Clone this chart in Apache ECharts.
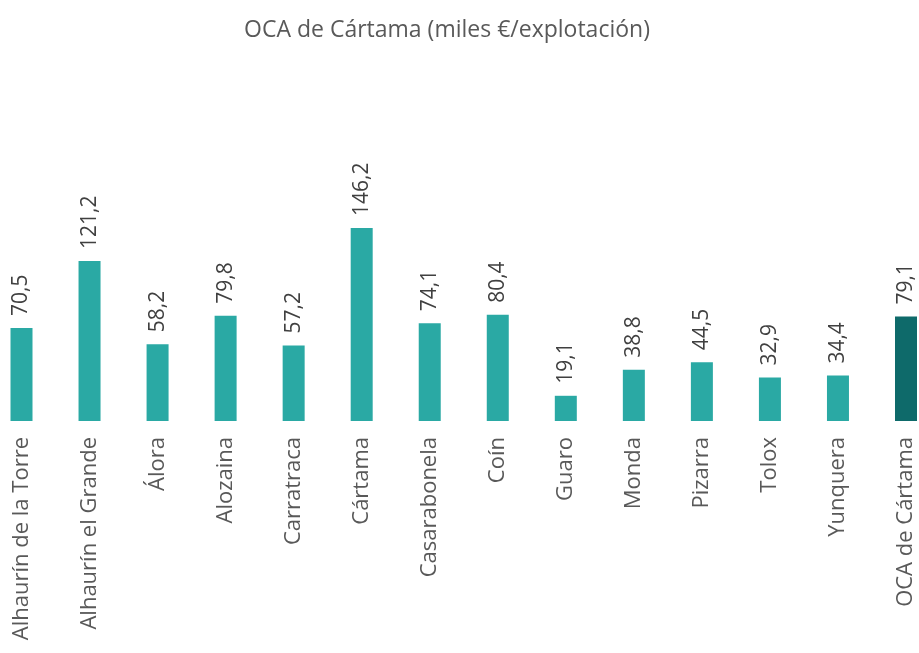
<!DOCTYPE html>
<html>
<head>
<meta charset="utf-8">
<script src="https://cdn.jsdelivr.net/npm/echarts@6/dist/echarts.min.js"></script>
<style>
  html, body { margin: 0; padding: 0; background: #fff; }
  #chart { width: 919px; height: 653px; }
</style>
</head>
<body>
<div id="chart"></div>
<script>
const categories = ['Alhaurín de la Torre', 'Alhaurín el Grande', 'Álora', 'Alozaina', 'Carratraca',
  'Cártama', 'Casarabonela', 'Coín', 'Guaro', 'Monda', 'Pizarra', 'Tolox', 'Yunquera', 'OCA de Cártama']
const values = [70.5, 121.2, 58.2, 79.8, 57.2, 146.2, 74.1, 80.4, 19.1, 38.8, 44.5, 32.9, 34.4, 79.1]

const teal = '#2AA9A4'
const darkTeal = '#0E6A6A'

const chart = echarts.init(document.getElementById('chart'))

const option = {
  animation: false,
  title: {
    text: 'OCA de Cártama (miles €/explotación)',
    left: 442,
    textAlign: 'center',
    top: 14,
    textStyle: { fontFamily: 'Open Sans', fontSize: 23, fontWeight: 'normal', color: '#595959' }
  },
  // boundaryGap false so first/last bars can sit close to the edges
  grid: { left: 21.5, right: 13, top: 157, bottom: 232 },
  xAxis: {
    type: 'category',
    data: categories,
    boundaryGap: false,
    axisLine: { show: false },
    axisTick: { show: false },
    axisLabel: {
      interval: 0,
      rotate: 90,
      margin: 16,
      fontFamily: 'Open Sans',
      fontSize: 22,
      color: '#595959'
    }
  },
  yAxis: {
    type: 'value',
    min: 0,
    max: 200,
    show: false
  },
  series: [{
    type: 'bar',
    barWidth: 22,
    data: values.map((v, i) => ({
      value: v,
      itemStyle: { color: i === values.length - 1 ? darkTeal : teal }
    })),
    label: {
      show: true,
      position: 'top',
      rotate: 90,
      align: 'left',
      verticalAlign: 'middle',
      distance: 12,
      fontFamily: 'Open Sans',
      fontSize: 21,
      color: '#404040',
      formatter: (p) => p.value.toFixed(1).replace('.', ',')
    }
  }]
}

chart.setOption(option)
</script>
</body>
</html>
